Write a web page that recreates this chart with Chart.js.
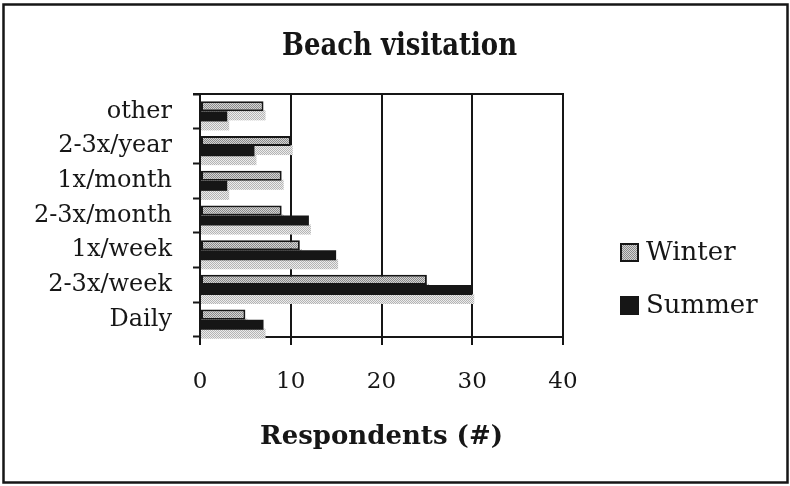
<!DOCTYPE html>
<html>
<head>
<meta charset="utf-8">
<script src="https://cdn.jsdelivr.net/npm/chart.js@4/dist/chart.umd.min.js"></script>
<style>
  html, body { margin: 0; padding: 0; background: #ffffff; }
  #wrap { width: 790px; height: 486px; position: relative; }
</style>
</head>
<body>
<div id="wrap"><canvas id="chart" width="790" height="486"></canvas></div>
<script>
// Visit frequency categories, top to bottom
const categories = ['other', '2-3x/year', '1x/month', '2-3x/month', '1x/week', '2-3x/week', 'Daily'];
// Respondent counts per season
const winterValues = [7, 10, 9, 9, 11, 25, 5];
const summerValues = [3, 6, 3, 12, 15, 30, 7];
// Value axis ticks
const xTicks = [0, 10, 20, 30, 40];
const chartTitle = 'Beach visitation';

const SERIF = '"DejaVu Serif", "Liberation Serif", serif';
const INK = '#161616';

// Small dithered grey tile used for the winter bars
function stipple(dark, light) {
  const c = document.createElement('canvas');
  c.width = 2; c.height = 2;
  const g = c.getContext('2d');
  g.fillStyle = light; g.fillRect(0, 0, 2, 2);
  g.fillStyle = dark; g.fillRect(0, 0, 1, 1); g.fillRect(1, 1, 1, 1);
  return g.createPattern(c, 'repeat');
}
const ctx0 = document.getElementById('chart').getContext('2d');
const winterFill = stipple('#8a8a8a', '#d4d4d4');
const shadowFill = stipple('#b4b4b4', '#ececec');

// Drop shadow under every bar, outer frame, title, plot top edge and legend
const decor = {
  id: 'decor',
  beforeDatasetsDraw(chart) {
    const c = chart.ctx;
    c.save();
    c.fillStyle = shadowFill;
    chart.data.datasets.forEach((ds, i) => {
      chart.getDatasetMeta(i).data.forEach(bar => {
        const h = bar.height;
        c.fillRect(bar.base, bar.y - h / 2 + 9, bar.x - bar.base + 2, h);
      });
    });
    c.restore();
  },
  afterDraw(chart) {
    const c = chart.ctx;
    const a = chart.chartArea;
    c.save();
    // top edge of the plot
    c.strokeStyle = INK; c.lineWidth = 2;
    c.beginPath(); c.moveTo(a.left - 7, a.top); c.lineTo(a.right + 1, a.top); c.stroke();
    // outer frame
    c.lineWidth = 2.5;
    c.strokeRect(3.5, 4.5, 784, 478);
    // title, set in a narrow bold face
    c.font = 'bold 31px ' + SERIF;
    c.fillStyle = INK;
    c.textAlign = 'center';
    c.textBaseline = 'alphabetic';
    const w = c.measureText(chartTitle).width;
    const sx = 235 / w;
    c.save();
    c.translate(399.5, 55);
    c.scale(sx, 1);
    c.fillText(chartTitle, 0, 0);
    c.restore();
    // legend
    const items = [
      { label: 'Winter', fill: winterFill, stroke: true, y: 252.5 },
      { label: 'Summer', fill: INK, stroke: false, y: 305.5 }
    ];
    c.font = '26px ' + SERIF;
    c.textBaseline = 'middle';
    c.textAlign = 'left';
    items.forEach(it => {
      c.fillStyle = it.fill;
      c.fillRect(620, it.y - 9.5, 19, 19);
      if (it.stroke) { c.lineWidth = 2; c.strokeStyle = INK; c.strokeRect(621, it.y - 8.5, 17, 17); }
      c.fillStyle = INK;
      c.fillText(it.label, 646, it.y + 1);
    });
    c.restore();
  }
};

new Chart(ctx0, {
  type: 'bar',
  data: {
    labels: categories,
    datasets: [
      { label: 'Winter', data: winterValues, backgroundColor: winterFill, borderColor: INK, borderWidth: 2, borderSkipped: false },
      { label: 'Summer', data: summerValues, backgroundColor: INK, borderWidth: 0 }
    ]
  },
  options: {
    indexAxis: 'y',
    responsive: false,
    animation: false,
    categoryPercentage: 0.58,
    barPercentage: 1.0,
    layout: { padding: { top: 94, left: 0, right: 227, bottom: 0 } },
    plugins: {
      legend: { display: false },
      tooltip: { enabled: false },
      title: { display: false }
    },
    scales: {
      x: {
        min: 0, max: 40,
        afterBuildTicks(scale) { scale.ticks = xTicks.map(v => ({ value: v })); },
        afterFit(scale) { scale.height = 149; },
        grid: { color: INK, lineWidth: 2, tickLength: 8, tickColor: INK, tickWidth: 2 },
        border: { display: true, color: INK, width: 2 },
        ticks: { color: INK, padding: 23, font: { family: SERIF, size: 23 } },
        title: {
          display: true,
          text: 'Respondents (#)',
          color: INK,
          font: { family: SERIF, size: 26, weight: 'bold', lineHeight: 1.2 },
          padding: { top: 0, bottom: 33 }
        }
      },
      y: {
        afterFit(scale) { scale.width = 200; },
        grid: { drawOnChartArea: false, offset: true, tickLength: 7, tickColor: INK, tickWidth: 2 },
        border: { display: true, color: INK, width: 2 },
        ticks: { color: INK, padding: 21, font: { family: SERIF, size: 24 } }
      }
    }
  },
  plugins: [decor]
});
</script>
</body>
</html>
